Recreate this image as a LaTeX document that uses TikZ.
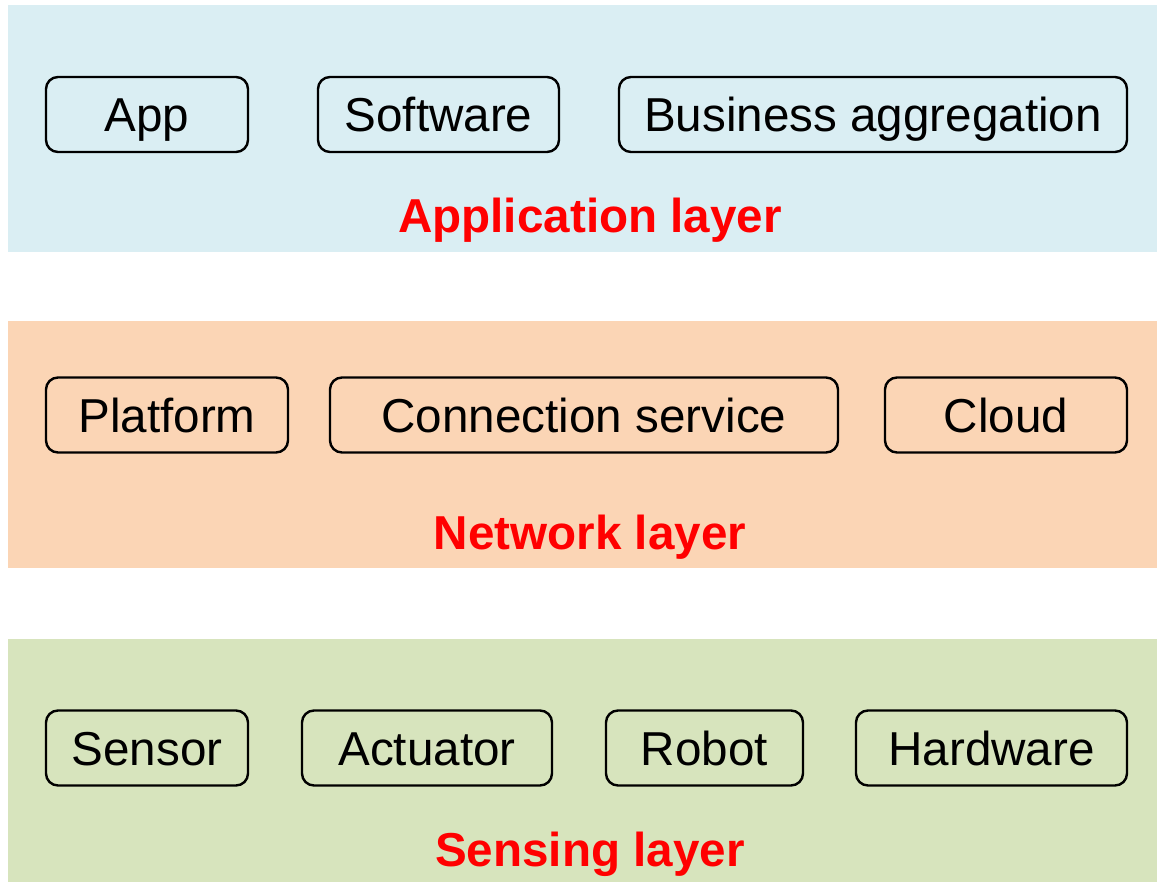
\documentclass[tikz,border=0pt]{standalone}
\usepackage{fontspec}
\setmainfont{Liberation Sans}
\definecolor{bandblue}{HTML}{DAEEF3}
\definecolor{bandorange}{HTML}{FBD5B5}
\definecolor{bandgreen}{HTML}{D7E4BD}
\definecolor{layerred}{HTML}{FF0000}
\tikzset{
  item/.style={draw=black, line width=2.4pt, rounded corners=12pt,
    minimum height=75pt, inner sep=0pt, text height=35pt, text depth=0pt,
    font=\fontsize{47.6}{57}\selectfont},
  layertitle/.style={anchor=base, text=layerred, inner sep=0pt,
    font=\fontsize{47.6}{57}\selectfont\bfseries},
}
\begin{document}
\begin{tikzpicture}[x=1pt, y=-1pt]
  \fill[white] (0,0) rectangle (1157,882);
  \useasboundingbox (0,0) rectangle (1157,882);

  % layer bands
  \fill[bandblue]   (8,5)   rectangle (1157,252);
  \fill[bandorange] (8,321) rectangle (1157,568);
  \fill[bandgreen]  (8,639) rectangle (1157,882);

  % application layer
  \node[item, minimum width=202pt] (app)  at (147,114.5)   {App};
  \node[item, minimum width=241pt] (soft) at (438.5,114.5) {Software};
  \node[item, minimum width=508pt] (biz)  at (873,114.5)   {Business aggregation};
  \node[layertitle] (appl) at (590,233) {Application layer};

  % network layer
  \node[item, minimum width=242pt] (plat)  at (167,415) {Platform};
  \node[item, minimum width=508pt] (conn)  at (584,415) {Connection service};
  \node[item, minimum width=242pt] (cloud) at (1006,415) {Cloud};
  \node[layertitle] (netl) at (590,549) {Network layer};

  % sensing layer
  \node[item, minimum width=202pt] (sens) at (147,748)   {Sensor};
  \node[item, minimum width=250pt] (act)  at (427,748)   {Actuator};
  \node[item, minimum width=197pt] (rob)  at (704.5,748) {Robot};
  \node[item, minimum width=271pt] (hard) at (991.5,748) {Hardware};
  \node[layertitle] (senl) at (590,866) {Sensing layer};
\end{tikzpicture}
\end{document}
